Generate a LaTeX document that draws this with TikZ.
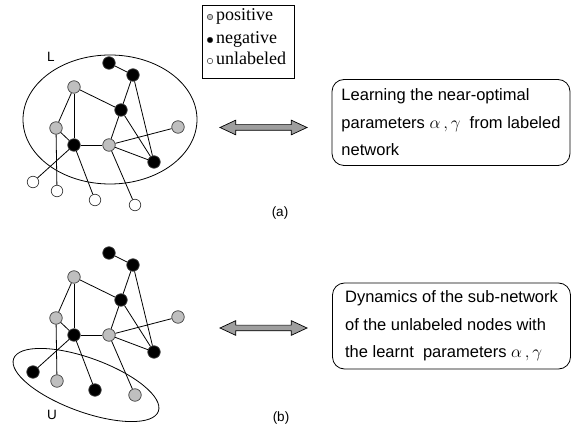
\documentclass[tikz,border=0pt]{standalone}
\usepackage{fontspec}
\setmainfont{Liberation Sans}
\newfontfamily\legendfont{Liberation Serif}
\usetikzlibrary{shapes.arrows,shapes.geometric}

\newcommand\netgraph[6]{%
  \begin{scope}[yshift=#2]
    \node[negnode] (#1n1) at (109,-63) {};
    \node[negnode] (#1n2) at (133,-75) {};
    \node[posnode] (#1n3) at (74,-87) {};
    \node[negnode] (#1n4) at (121,-110) {};
    \node[posnode] (#1n5) at (56,-128) {};
    \node[posnode] (#1n6) at (178,-127) {};
    \node[negnode] (#1n7) at (74,-145) {};
    \node[posnode] (#1n8) at (109,-145) {};
    \node[negnode] (#1n9) at (154,-162) {};
    \node[#3] (#1u1) at (33,-182) {};
    \node[#4] (#1u2) at (57,-191) {};
    \node[#5] (#1u3) at (95,-200) {};
    \node[#6] (#1u4) at (135,-205) {};
    \draw[edge] (#1n1) -- (#1n2);
    \draw[edge] (#1n2) -- (#1n4);
    \draw[edge] (#1n2) -- (#1n9);
    \draw[edge] (#1n3) -- (#1n4);
    \draw[edge] (#1n3) -- (#1n5);
    \draw[edge] (#1n3) -- (#1n7);
    \draw[edge] (#1n4) -- (#1n8);
    \draw[edge] (#1n4) -- (#1n9);
    \draw[edge] (#1n5) -- (#1n7);
    \draw[edge] (#1n5) -- (#1u2);
    \draw[edge] (#1n7) -- (#1n8);
    \draw[edge] (#1n8) -- (#1n6);
    \draw[edge] (#1n8) -- (#1n9);
    \draw[edge] (#1n7) -- (#1u1);
    \draw[edge] (#1n7) -- (#1u3);
    \draw[edge] (#1n8) -- (#1u4);
  \end{scope}}

\begin{document}
\begin{tikzpicture}[x=1pt,y=1pt,
  vert/.style={circle, draw=black!75, line width=0.7pt, minimum size=12.5pt, inner sep=0pt},
  posnode/.style={vert, fill=black!25},
  negnode/.style={vert, fill=black},
  unlnode/.style={vert, fill=white, minimum size=11.5pt},
  edge/.style={line width=0.8pt},
  region/.style={draw, line width=0.8pt},
  lbl/.style={font=\fontsize{13.5}{16}\selectfont, inner sep=0pt},
  legtext/.style={anchor=base west, inner sep=0pt, font=\legendfont\fontsize{18}{20}\selectfont},
  legdot/.style={circle, draw=black!80, line width=0.5pt, minimum size=5.5pt, inner sep=0pt},
  dblarrow/.style={double arrow, draw, line width=0.7pt, fill=black!38, inner sep=2.5pt,
    minimum height=87pt, minimum width=14pt, double arrow head extend=4.5pt, double arrow tip angle=50},
  textbox/.style={draw, rounded corners=12pt, line width=0.8pt, align=left, inner xsep=3pt,
    minimum width=238pt, minimum height=86pt, font=\fontsize{16.5}{27.5}\selectfont}]
\useasboundingbox (0,0) rectangle (573,-430);

% regions
\node[region, ellipse, minimum width=174pt, minimum height=129pt, inner sep=0pt] (Lreg) at (110,-119.5) {};
\draw[region, rotate around={-20:(86,-385)}] (86,-385) ellipse [x radius=77, y radius=27];

% graphs
\netgraph{a}{0pt}{unlnode}{unlnode}{unlnode}{unlnode}
\netgraph{b}{-190pt}{negnode}{posnode}{negnode}{posnode}

% labels
\node[lbl] (Llab) at (51,-57) {L};
\node[lbl] (Ulab) at (52,-415) {U};
\node[lbl] (alab) at (280,-213) {(a)};
\node[lbl] (blab) at (281,-418) {(b)};

% legend
\node[draw, line width=0.6pt, minimum width=92pt, minimum height=73pt, anchor=north west, inner sep=0pt] (legend) at (202,-5) {};
\node[legdot, fill=black!25] (lp) at (210,-17) {};
\node[legdot, fill=black] (ln) at (210,-40) {};
\node[legdot, fill=white] (lu) at (210,-61) {};
\node[legtext] (tp) at (216,-21) {positive};
\node[legtext] (tn) at (216,-44) {negative};
\node[legtext] (tu) at (216,-65) {unlabeled};

% arrows
\node[dblarrow] (arrA) at (263.5,-127.5) {};
\node[dblarrow] (arrB) at (263.5,-328) {};

% text boxes
\node[textbox] (boxA) at (451,-122.5) {Learning the near-optimal\\parameters $\alpha\,,\gamma$\ \ from labeled\\network};
\node[textbox] (boxB) at (451.5,-326) {Dynamics of the sub-network\\of the unlabeled nodes with\\the learnt\ \ parameters $\alpha\,,\gamma$};
\end{tikzpicture}
\end{document}
